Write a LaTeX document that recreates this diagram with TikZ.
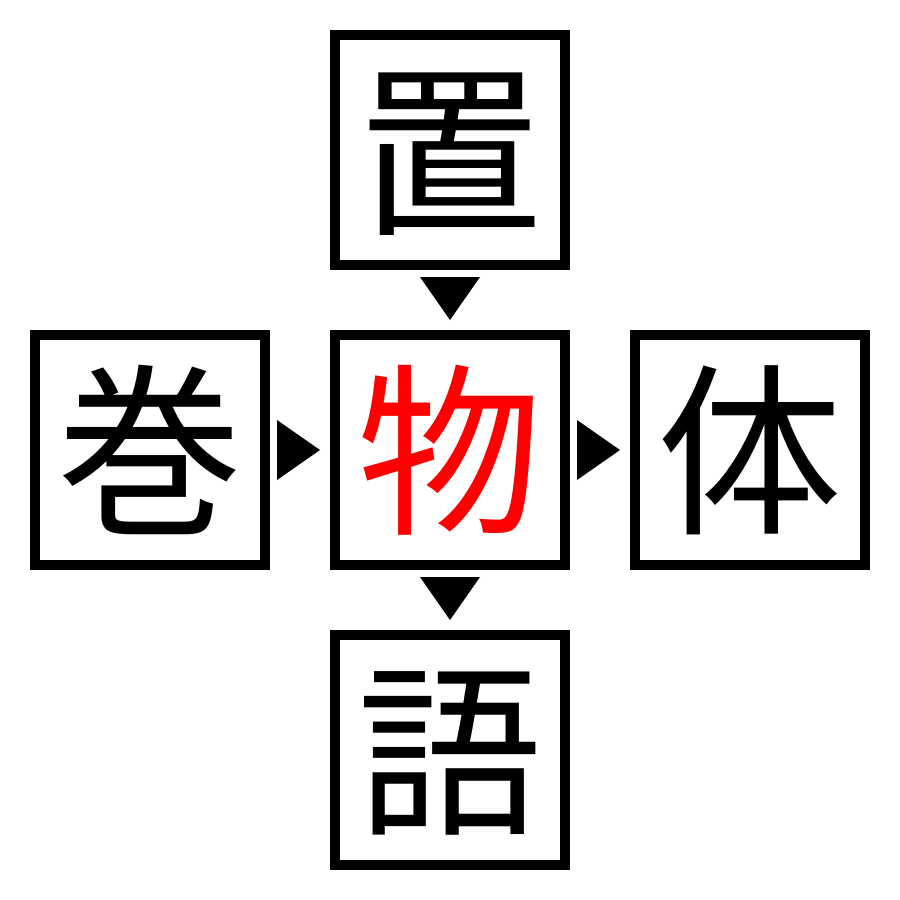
\documentclass[tikz,border=0pt]{standalone}
\usepackage{fontspec}
\newfontfamily\cjk{Noto Sans CJK JP}
\begin{document}
\begin{tikzpicture}[x=1pt,y=-1pt,
  kbox/.style={draw=black,line width=10pt,minimum size=230pt,inner sep=0pt,outer sep=0pt,
    font=\cjk\fontsize{185}{185}\selectfont,text height=163pt,text depth=22pt},
  tri/.style={fill=black}]
\fill[white] (0,0) rectangle (900,900);
\useasboundingbox (0,0) rectangle (900,900);
\node[kbox] (top) at (450,150) {置};
\node[kbox,text=red] (mid) at (450,450) {物};
\node[kbox] (lft) at (150,450) {巻};
\node[kbox] (rgt) at (750,450) {体};
\node[kbox] (bot) at (450,750) {語};
\fill[tri] ([shift={(-30,12)}]top.south) -- ([shift={(30,12)}]top.south) -- ([shift={(0,55)}]top.south) -- cycle;
\fill[tri] ([shift={(-30,12)}]mid.south) -- ([shift={(30,12)}]mid.south) -- ([shift={(0,55)}]mid.south) -- cycle;
\fill[tri] ([shift={(12,-30)}]lft.east) -- ([shift={(12,30)}]lft.east) -- ([shift={(55,0)}]lft.east) -- cycle;
\fill[tri] ([shift={(12,-30)}]mid.east) -- ([shift={(12,30)}]mid.east) -- ([shift={(55,0)}]mid.east) -- cycle;
\end{tikzpicture}
\end{document}
